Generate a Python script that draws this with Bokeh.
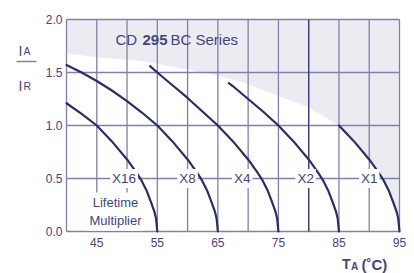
from bokeh.plotting import figure
from bokeh.models import FixedTicker, PrintfTickFormatter, Range1d
from bokeh.core.properties import value
from bokeh.embed import file_html
from bokeh.resources import INLINE

# ---------------- data ----------------
multipliers = ["X16", "X8", "X4", "X2", "X1"]
rated_temps = [55, 65, 75, 85, 95]

x16_temp = [40, 42.5, 45, 47.5, 50, 51.5, 52.3, 53.2, 54.0, 54.5, 54.8, 55]
x16_ratio = [1.21, 1.11, 1.00, 0.85, 0.68, 0.56, 0.49, 0.39, 0.27, 0.19, 0.12, 0.0]

x8_temp = [40, 42.5, 45, 47.5, 50, 52.5, 55, 57.5, 60, 61.5, 62.3, 63.2, 64.0, 64.5, 64.8, 65]
x8_ratio = [1.57, 1.50, 1.42, 1.33, 1.23, 1.12, 1.00, 0.85, 0.68, 0.56, 0.49, 0.39, 0.27, 0.19, 0.12, 0.0]

x4_temp = [53.8, 55, 57.5, 60, 62.5, 65, 67.5, 70, 71.5, 72.3, 73.2, 74.0, 74.5, 74.8, 75]
x4_ratio = [1.56, 1.50, 1.38, 1.26, 1.13, 1.00, 0.85, 0.68, 0.56, 0.49, 0.39, 0.27, 0.19, 0.12, 0.0]

x2_temp = [66.8, 67.5, 70, 72.5, 75, 77.5, 80, 81.5, 82.3, 83.2, 84.0, 84.5, 84.8, 85]
x2_ratio = [1.40, 1.37, 1.25, 1.13, 1.00, 0.85, 0.68, 0.56, 0.49, 0.39, 0.27, 0.19, 0.12, 0.0]

x1_temp = [85, 87.5, 90, 91.5, 92.3, 93.2, 94.0, 94.5, 94.8, 95]
x1_ratio = [1.00, 0.85, 0.68, 0.56, 0.49, 0.39, 0.27, 0.19, 0.12, 0.0]

# upper limit of the safe area (shaded above it)
limit_temp = [40, 46, 52, 58, 64, 69, 75, 80, 85]
limit_ratio = [1.68, 1.64, 1.61, 1.55, 1.48, 1.41, 1.28, 1.17, 1.00]

x_tick_values = [45, 55, 65, 75, 85, 95]
y_tick_values = [0.0, 0.5, 1.0, 1.5, 2.0]
x_grid_values = [40, 45, 50, 55, 60, 65, 70, 75, 80, 85, 90, 95]
y_grid_values = [0.0, 0.5, 1.0, 1.5, 2.0]
dark_grid_values = [80]

X_START, X_END = 40, 95
Y_START, Y_END = 0.0, 2.0

# ---------------- layout (pixels of the 414x273 page) ----------------
W, H = 414, 273
PX_L, PX_R, PX_T, PX_B = 66, 399, 19, 231      # where the data box sits
KX = (PX_R - PX_L) / (X_END - X_START)
KY = (PX_B - PX_T) / (Y_END - Y_START)


def dx(px):
    return X_START + (px - PX_L) / KX


def dy(py):
    return Y_START + (PX_B - py) / KY


GRID = "#8080aa"
DARK_GRID = "#3c3c78"
CURVE = "#2c2c66"
TEXT = "#45457c"
SHADE = "#ebebf2"
FONT = "Liberation Sans"

p = figure(width=W, height=H,
           x_range=Range1d(dx(0), dx(W)), y_range=Range1d(dy(H), dy(0)),
           output_backend="svg", toolbar_location=None, min_border=0)
p.background_fill_color = "white"
p.border_fill_color = "white"
p.outline_line_color = None
p.xgrid.visible = False
p.ygrid.visible = False

# axes fixed on the data box
p.xaxis.fixed_location = Y_START
p.yaxis.fixed_location = X_START
p.xaxis.ticker = FixedTicker(ticks=x_tick_values)
p.yaxis.ticker = FixedTicker(ticks=y_tick_values)
p.yaxis.formatter = PrintfTickFormatter(format="%.1f")
for ax in (p.xaxis, p.yaxis):
    ax.axis_line_color = None
    ax.major_tick_line_color = None
    ax.minor_tick_line_color = None
    ax.major_tick_in = 0
    ax.major_tick_out = 0
    ax.major_label_text_font = FONT
    ax.major_label_text_font_size = "12px"
    ax.major_label_text_color = TEXT
p.xaxis.major_label_standoff = 6
p.yaxis.major_label_standoff = 4

# shaded region above the limit
shade_x = limit_temp + x1_temp[1:] + [X_END, X_END, X_START]
shade_y = limit_ratio + x1_ratio[1:] + [Y_START, Y_END, Y_END]
p.patch(shade_x, shade_y, fill_color=SHADE, line_color=None, level="image")

# grid and box
p.segment(x0=x_grid_values, y0=[Y_START] * len(x_grid_values),
          x1=x_grid_values, y1=[Y_END] * len(x_grid_values),
          line_color=GRID, line_width=1.3, level="underlay")
p.segment(x0=[X_START] * len(y_grid_values), y0=y_grid_values,
          x1=[X_END] * len(y_grid_values), y1=y_grid_values,
          line_color=GRID, line_width=1.3, level="underlay")
p.segment(x0=dark_grid_values, y0=[Y_START] * len(dark_grid_values),
          x1=dark_grid_values, y1=[Y_END] * len(dark_grid_values),
          line_color=DARK_GRID, line_width=1.3)

# curves
for t, r in ((x16_temp, x16_ratio), (x8_temp, x8_ratio), (x4_temp, x4_ratio),
             (x2_temp, x2_ratio), (x1_temp, x1_ratio)):
    p.line(t, r, line_color=CURVE, line_width=2.2, line_join="round", line_cap="round")

# multiplier labels on the 0.5 line
label_x = [r - 5 for r in rated_temps]
label_shift = [-3, 0, -6, -3, 0]          # small pixel nudges seen in the reference
p.text(x=label_x, y=[0.5] * len(label_x), text=multipliers, x_offset=label_shift,
       text_font=value(FONT), text_font_size="13.5px", text_color=TEXT,
       text_align="center", text_baseline="middle",
       background_fill_color="white", padding=2)

p.text(x=[dx(115)], y=[dy(211)], text=["Lifetime\nMultiplier"],
       text_font=value(FONT), text_font_size="13px", text_color=TEXT,
       text_align="center", text_baseline="middle", text_line_height=1.15,
       background_fill_color="white", padding=3)


def txt(px, py, s, size, style="normal", align="left", baseline="alphabetic", color=TEXT):
    p.text(x=[dx(px)], y=[dy(py)], text=[s], text_font=value(FONT),
           text_font_size=size, text_font_style=style, text_color=color,
           text_align=align, text_baseline=baseline)


# series title
txt(115, 39, "CD", "15px")
txt(142, 39, "295", "15px", "bold")
txt(170, 39, "BC Series", "15px")

# y-axis label  I_A / I_R
txt(18, 50, "I", "14px")
txt(23, 50, "A", "10.5px")
txt(18, 85, "I", "14px")
txt(23, 85, "R", "10.5px")
p.segment(x0=[dx(16)], y0=[dy(61)], x1=[dx(36)], y1=[dy(61)],
          line_color=GRID, line_width=1.5)

# x-axis label  T_A (°C)
txt(341.5, 263.5, "T", "14px", "bold")
txt(350.5, 266, "A", "10px", "bold")
txt(361, 264, "(\u02daC)", "15px", "bold")

open("out.html", "w").write(file_html(p, INLINE))
